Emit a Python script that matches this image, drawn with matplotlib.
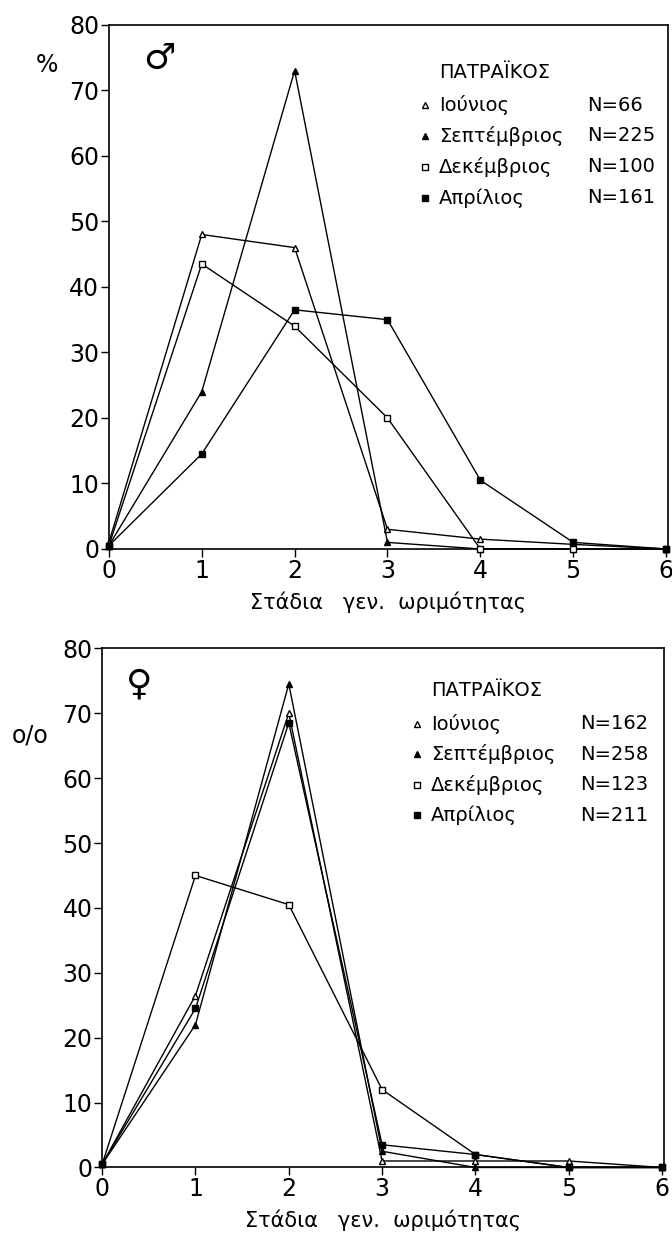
import numpy as np
import matplotlib.pyplot as plt

plt.rcParams['font.family'] = ['DejaVu Sans']

stages = [0, 1, 2, 3, 4, 5, 6]
months = ['Ιούνιος', 'Σεπτέμβριος', 'Δεκέμβριος', 'Απρίλιος']

# male
male_n = ['N=66', 'N=225', 'N=100', 'N=161']
male_jun = [1, 48, 46, 3, 1.5, 0.7, 0]
male_sep = [0.5, 24, 73, 1, 0, 0, 0]
male_dec = [0.5, 43.5, 34, 20, 0, 0, 0]
male_apr = [0.5, 14.5, 36.5, 35, 10.5, 1, 0]

# female
female_n = ['N=162', 'N=258', 'N=123', 'N=211']
female_jun = [0.5, 26.5, 70, 1, 1, 1, 0]
female_sep = [0.5, 22, 74.5, 2.5, 0, 0, 0]
female_dec = [0.5, 45, 40.5, 12, 2, 0, 0]
female_apr = [0.5, 24.5, 68.5, 3.5, 2, 0, 0]

styles = [('^', 'white'), ('^', 'black'), ('s', 'white'), ('s', 'black')]


def draw_panel(ax, series, n_labels, sym, sym_xy, ylab, ylab_xy, leg):
    for vals, (m, fc) in zip(series, styles):
        ax.plot(stages, vals, color='black', lw=1.0, marker=m, ms=5,
                mfc=fc, mec='black', mew=1.0, clip_on=False, zorder=3)
    ax.set_xlim(0, 6.02)
    ax.set_ylim(0, 80)
    ax.set_xticks(stages)
    ax.set_yticks(range(0, 81, 10))
    ax.tick_params(direction='out', length=6, width=1, labelsize=17, pad=1)
    for s in ax.spines.values():
        s.set_linewidth(1.2)
    ax.set_xlabel('Στάδια   γεν.  ωριμότητας', fontsize=15, labelpad=6)

    # legend block drawn as text
    mx, tx, nx, ty, y0, dy = leg
    ax.text(tx, ty, 'ΠΑΤΡΑΪΚΟΣ', transform=ax.transAxes, fontsize=14,
            va='center', ha='left')
    for i, (name, n) in enumerate(zip(months, n_labels)):
        y = y0 - i * dy
        m, fc = styles[i]
        ax.plot([mx], [y], transform=ax.transAxes, marker=m, ms=4,
                mfc=fc, mec='black', ls='')
        ax.text(tx, y, name, transform=ax.transAxes, fontsize=14,
                va='center', ha='left')
        ax.text(nx, y, n, transform=ax.transAxes, fontsize=14,
                va='center', ha='left')

    ax.text(sym_xy[0], sym_xy[1], sym, transform=ax.transAxes, fontsize=26,
            va='center', ha='center')
    ax.text(ylab_xy[0], ylab_xy[1], ylab, transform=ax.transAxes,
            fontsize=17, va='center', ha='center')


fig = plt.figure(figsize=(6.72, 12.42), dpi=100)
ax1 = fig.add_axes([0.162, 0.558, 0.832, 0.422])
ax2 = fig.add_axes([0.152, 0.060, 0.836, 0.418])

draw_panel(ax1, [male_jun, male_sep, male_dec, male_apr], male_n,
           '♂', (0.09, 0.935), '%', (-0.111, 0.924),
           (0.565, 0.59, 0.855, 0.91, 0.847, 0.059))
draw_panel(ax2, [female_jun, female_sep, female_dec, female_apr], female_n,
           '♀', (0.065, 0.93), 'o/o', (-0.128, 0.832),
           (0.56, 0.585, 0.85, 0.919, 0.855, 0.059))

fig.savefig('out.png', dpi=100)
